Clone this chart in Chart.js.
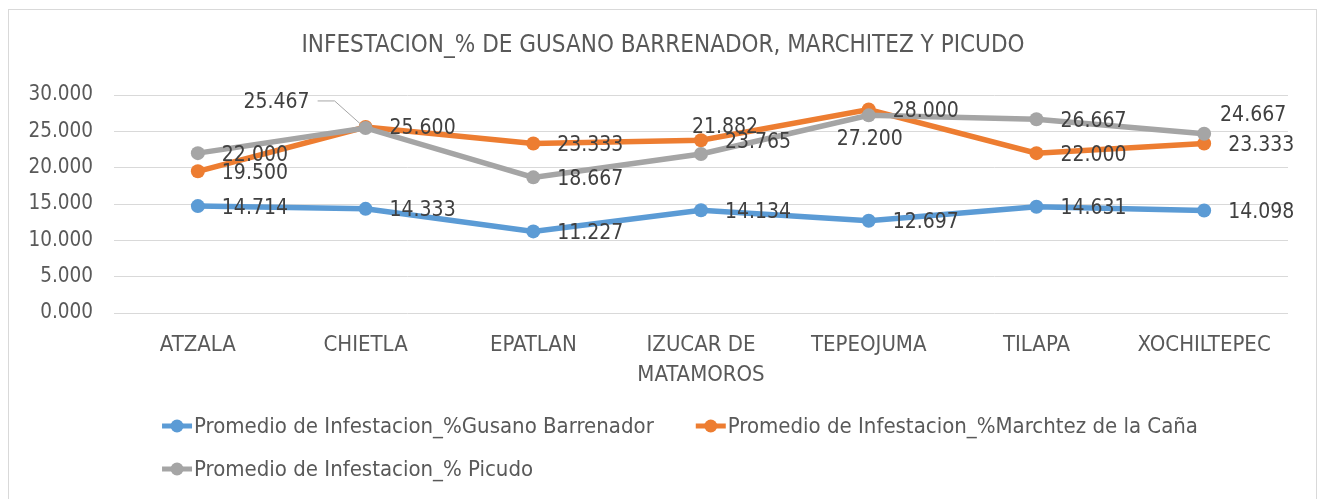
<!DOCTYPE html>
<html><head><meta charset="utf-8">
<script src="https://cdn.jsdelivr.net/npm/chart.js@4.4.0/dist/chart.umd.min.js"></script>
<style>
html,body{margin:0;padding:0;background:#fff;}
#wrap{position:absolute;left:0;top:0;width:1324px;height:499px;}
</style></head><body>
<div id="wrap"><canvas id="c" width="1324" height="499"></canvas></div>
<script>
// ---- data ----
const chartTitle = 'INFESTACION_% DE GUSANO BARRENADOR, MARCHITEZ Y PICUDO';
const categories = [['ATZALA'], ['CHIETLA'], ['EPATLAN'], ['IZUCAR DE', 'MATAMOROS'], ['TEPEOJUMA'], ['TILAPA'], ['XOCHILTEPEC']];
const seriesNames = ['Promedio de Infestacion_%Gusano Barrenador', 'Promedio de Infestacion_%Marchtez de la Caña', 'Promedio de Infestacion_% Picudo'];
const gusano = [14.714, 14.333, 11.227, 14.134, 12.697, 14.631, 14.098];
const marchitez = [19.500, 25.600, 23.333, 23.765, 28.000, 22.000, 23.333];
const picudo = [22.000, 25.467, 18.667, 21.882, 27.200, 26.667, 24.667];
const yTicks = [0, 5, 10, 15, 20, 25, 30];

// ---- style ----
const FONT = '"Liberation Sans Narrow", "DejaVu Sans Condensed", "Liberation Sans", sans-serif';
const colors = ['#5B9BD5', '#ED7D31', '#A5A5A5'];
const AXIS_COLOR = '#595959';
const LABEL_COLOR = '#404040';

// label placement overrides (dataset-index) relative to default "right"
const labelPlace = {
  '2-1': {dx: -89, dy: -25, leader: true},
  '2-3': {dx: 24, dy: -26},
  '2-4': {dx: 1, dy: 24},
  '2-6': {dx: 49, dy: -18}
};

const series = [gusano, marchitez, picudo];

const framePlugin = {
  id: 'frame',
  beforeDraw(chart) {
    const ctx = chart.ctx;
    ctx.save();
    ctx.fillStyle = '#fff';
    ctx.fillRect(0, 0, chart.width, chart.height);
    ctx.strokeStyle = '#d9d9d9';
    ctx.lineWidth = 1;
    ctx.strokeRect(8.5, 9.5, 1308, 495);
    // title
    ctx.fillStyle = AXIS_COLOR;
    ctx.font = '24px ' + FONT;
    ctx.textAlign = 'center';
    ctx.textBaseline = 'middle';
    ctx.fillText(chartTitle, 663, 46);
    ctx.restore();
  },
  afterDatasetsDraw(chart) {
    const ctx = chart.ctx;
    ctx.save();
    ctx.font = '21px ' + FONT;
    ctx.fillStyle = LABEL_COLOR;
    ctx.textBaseline = 'middle';
    chart.data.datasets.forEach((ds, di) => {
      const meta = chart.getDatasetMeta(di);
      meta.data.forEach((pt, i) => {
        const txt = ds.data[i].toFixed(3);
        const p = labelPlace[di + '-' + i];
        let cx, cy;
        const w = ctx.measureText(txt).width;
        if (p) {
          cx = pt.x + p.dx; cy = pt.y + p.dy;
          ctx.textAlign = 'center';
          ctx.fillText(txt, cx, cy);
          if (p.leader) {
            ctx.strokeStyle = '#a6a6a6';
            ctx.lineWidth = 1;
            ctx.beginPath();
            ctx.moveTo(cx + w / 2 + 8, cy - 2);
            ctx.lineTo(cx + w / 2 + 25, cy - 2);
            ctx.lineTo(pt.x - 4, pt.y - 3);
            ctx.stroke();
          }
        } else {
          ctx.textAlign = 'left';
          ctx.fillText(txt, pt.x + 24, pt.y + 2);
        }
      });
    });
    // legend
    ctx.font = '22px ' + FONT;
    ctx.fillStyle = AXIS_COLOR;
    ctx.textAlign = 'left';
    const itemW = (i) => 32 + ctx.measureText(seriesNames[i]).width;
    const gap = 42;
    const row1W = itemW(0) + gap + itemW(1);
    const startX = 680 - row1W / 2;
    const drawItem = (i, x, y) => {
      ctx.strokeStyle = colors[i];
      ctx.lineWidth = 5;
      ctx.beginPath();
      ctx.moveTo(x, y); ctx.lineTo(x + 30, y);
      ctx.stroke();
      ctx.fillStyle = colors[i];
      ctx.beginPath();
      ctx.arc(x + 15, y, 6.5, 0, Math.PI * 2);
      ctx.fill();
      ctx.fillStyle = AXIS_COLOR;
      ctx.fillText(seriesNames[i], x + 32, y + 1);
    };
    drawItem(0, startX, 426);
    drawItem(1, startX + itemW(0) + gap, 426);
    drawItem(2, startX, 469);
    ctx.restore();
  }
};

new Chart(document.getElementById('c'), {
  type: 'line',
  data: {
    labels: categories,
    datasets: series.map((d, i) => ({
      label: seriesNames[i],
      data: d,
      borderColor: colors[i],
      backgroundColor: colors[i],
      borderWidth: 5.5,
      pointRadius: 7,
      pointHoverRadius: 7,
      pointBorderWidth: 0,
      tension: 0,
      order: i === 2 ? 0 : (i === 1 ? 1 : 2)
    }))
  },
  options: {
    responsive: false,
    animation: false,
    events: [],
    layout: {padding: {top: 95, right: 36, left: 0, bottom: 0}},
    plugins: {legend: {display: false}, title: {display: false}, tooltip: {enabled: false}},
    scales: {
      x: {
        offset: true,
        grid: {display: false, drawTicks: false},
        border: {display: false},
        ticks: {color: AXIS_COLOR, font: {family: FONT, size: 22, lineHeight: 1.36}, padding: 17, maxRotation: 0, autoSkip: false},
        afterFit(s) { s.height = 186; }
      },
      y: {
        min: 0, max: 30,
        afterBuildTicks(s) { s.ticks = yTicks.map(v => ({value: v})); },
        grid: {color: '#d9d9d9', lineWidth: 1, drawTicks: false},
        border: {display: false},
        ticks: {color: AXIS_COLOR, font: {family: FONT, size: 20.5}, padding: 21, callback: v => Number(v).toFixed(3)},
        afterFit(s) { s.width = 114; }
      }
    }
  },
  plugins: [framePlugin]
});
</script>
</body></html>
